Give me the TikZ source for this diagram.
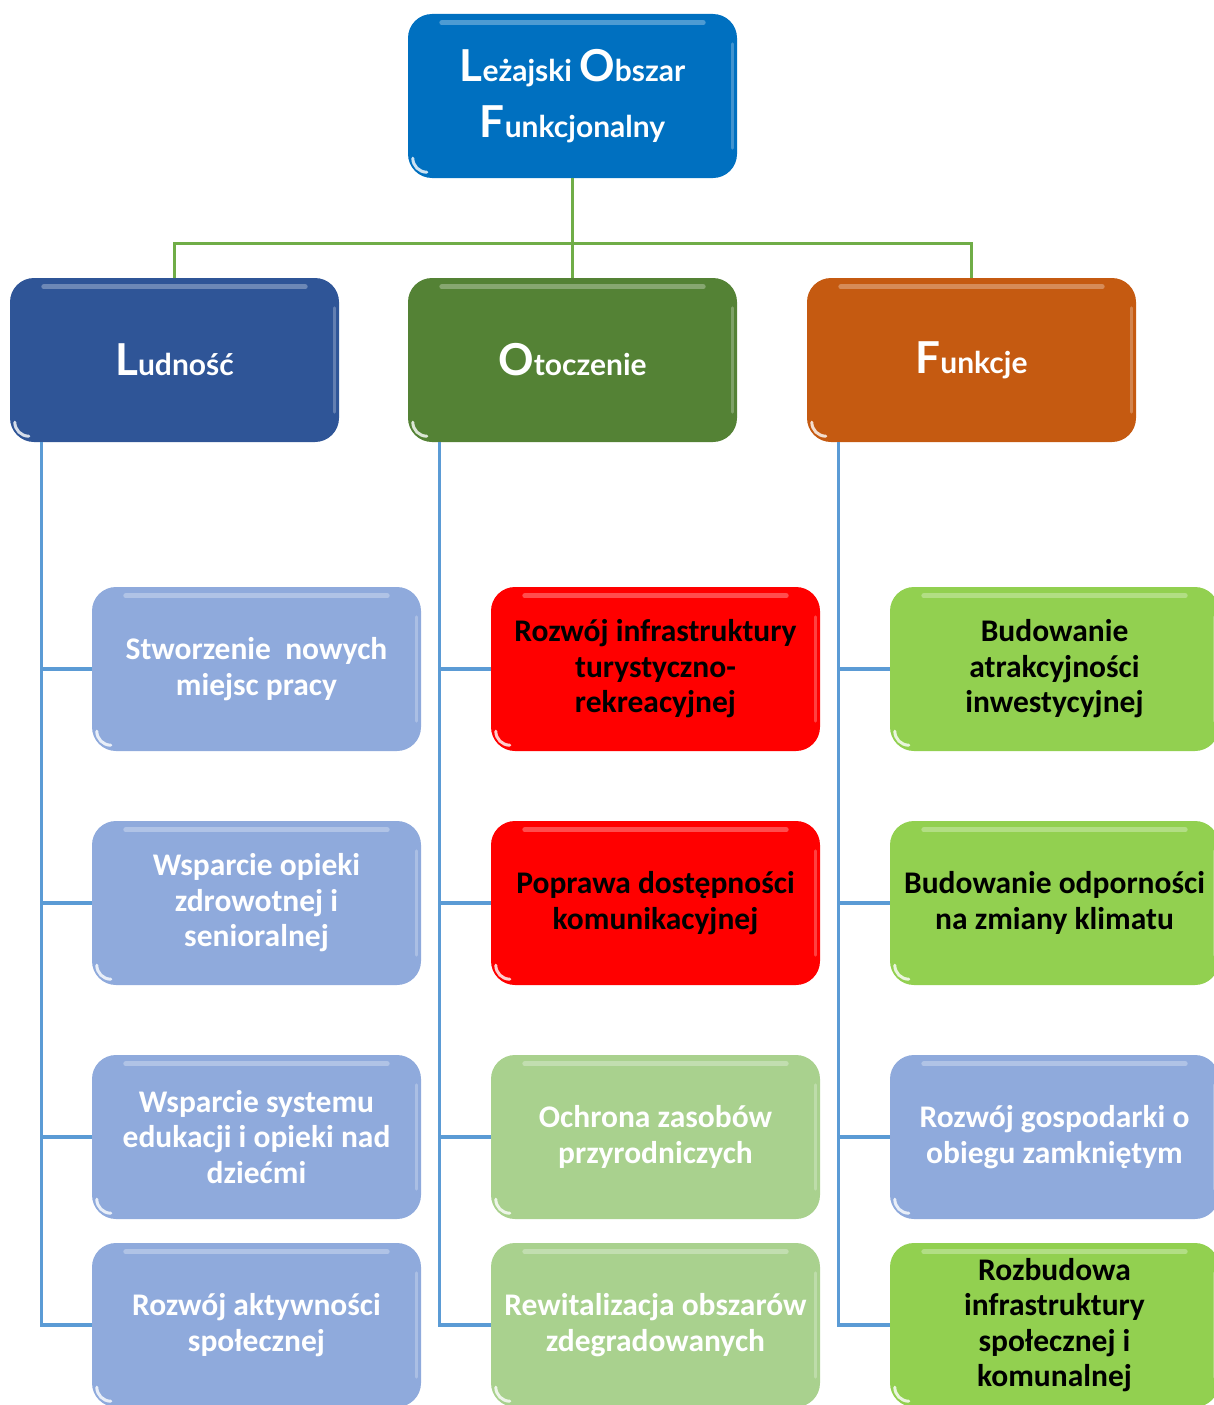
\documentclass[tikz,border=0pt]{standalone}
\usepackage{fontspec}
\usetikzlibrary{calc}
\setmainfont{Carlito}
\newfontfamily\headfont{Lato}
\definecolor{cTop}{HTML}{0070C0}
\definecolor{cLud}{HTML}{2F5597}
\definecolor{cOto}{HTML}{548235}
\definecolor{cFun}{HTML}{C55A11}
\definecolor{cLB}{HTML}{8FAADC}
\definecolor{cRed}{HTML}{FF0000}
\definecolor{cLG}{HTML}{A9D18E}
\definecolor{cBG}{HTML}{92D050}
\definecolor{lnGreen}{HTML}{70AD47}
\definecolor{lnBlue}{HTML}{5B9BD5}
\newcommand{\hcap}[2]{{\fontsize{44}{50}\selectfont #1}{\fontsize{30}{40}\selectfont #2}}
\newcommand{\glossy}[1]{%
  \draw[white,opacity=0.3,line width=5pt,line cap=round]
    ([xshift=34pt,yshift=-9pt]#1.north west) -- ([xshift=-34pt,yshift=-9pt]#1.north east);
  \draw[white,opacity=0.25,line width=3pt,line cap=round]
    ([xshift=-5pt,yshift=-30pt]#1.north east) -- ([xshift=-5pt,yshift=30pt]#1.south east);
  \draw[white,opacity=0.8,line width=3pt,line cap=round]
    ([xshift=5pt,yshift=20pt]#1.south west) arc[start angle=180,end angle=270,radius=14pt];
}
\tikzset{
  box/.style={rounded corners=24pt,minimum width=329pt,minimum height=164pt,
    align=center,inner sep=0pt,font=\bfseries\fontsize{31.5}{35.5}\selectfont},
  headbox/.style={box,text=white,font=\headfont\bfseries},
  wbox/.style={box,text=white},
  kbox/.style={box,text=black},
  gline/.style={draw=lnGreen,line width=3.2pt},
  bline/.style={draw=lnBlue,line width=3.2pt},
}
\begin{document}
\begin{tikzpicture}[x=1pt,y=-1pt]
\useasboundingbox (0,0) rectangle (1214,1405);
\clip (0,0) rectangle (1214,1405);
% connectors top
\node[headbox,fill=cTop] (top) at (572.5,96) {\hcap{L}{eżajski\ }\hcap{O}{bszar}\\[18pt]\hcap{F}{unkcjonalny}};
\node[headbox,fill=cLud] (lud) at (174.5,360) {\hcap{L}{udność}};
\node[headbox,fill=cOto] (oto) at (572.5,360) {\hcap{O}{toczenie}};
\node[headbox,fill=cFun] (fun) at (971.5,360) {\hcap{F}{unkcje}};
% column 1
\node[wbox,fill=cLB] (a1) at (256.5,669) {Stworzenie\ \ nowych\\miejsc pracy};
\node[wbox,fill=cLB] (a2) at (256.5,903) {Wsparcie opieki\\zdrowotnej i\\senioralnej};
\node[wbox,fill=cLB] (a3) at (256.5,1137) {Wsparcie systemu\\edukacji i opieki nad\\dziećmi};
\node[wbox,fill=cLB] (a4) at (256.5,1325) {Rozwój aktywności\\społecznej};
% column 2
\node[kbox,fill=cRed] (b1) at (655.5,669) {Rozwój infrastruktury\\turystyczno-\\rekreacyjnej};
\node[kbox,fill=cRed] (b2) at (655.5,903) {Poprawa dostępności\\komunikacyjnej};
\node[wbox,fill=cLG] (b3) at (655.5,1137) {Ochrona zasobów\\przyrodniczych};
\node[wbox,fill=cLG] (b4) at (655.5,1325) {Rewitalizacja obszarów\\zdegradowanych};
% column 3
\node[kbox,fill=cBG] (c1) at (1054.5,669) {Budowanie\\atrakcyjności\\inwestycyjnej};
\node[kbox,fill=cBG] (c2) at (1054.5,903) {Budowanie odporności\\na zmiany klimatu};
\node[wbox,fill=cLB] (c3) at (1054.5,1137) {Rozwój gospodarki o\\obiegu zamkniętym};
\node[kbox,fill=cBG] (c4) at (1054.5,1325) {Rozbudowa\\infrastruktury\\społecznej i\\komunalnej};
% gloss
\foreach \n in {top,lud,oto,fun,a1,a2,a3,a4,b1,b2,b3,b4,c1,c2,c3,c4} {\glossy{\n}}
% connectors top
\coordinate (hub) at ($(top.south)+(0,65)$);
\draw[gline] (top.south) -- (hub) -| (lud.north);
\draw[gline] (hub) -| (fun.north);
\draw[gline] (hub) -- (oto.north);
% connectors columns
\foreach \c in {a1,a2,a3,a4} {\draw[bline] ([xshift=32pt]lud.south west) |- (\c.west);}
\foreach \c in {b1,b2,b3,b4} {\draw[bline] ([xshift=32pt]oto.south west) |- (\c.west);}
\foreach \c in {c1,c2,c3,c4} {\draw[bline] ([xshift=32pt]fun.south west) |- (\c.west);}
\end{tikzpicture}
\end{document}
